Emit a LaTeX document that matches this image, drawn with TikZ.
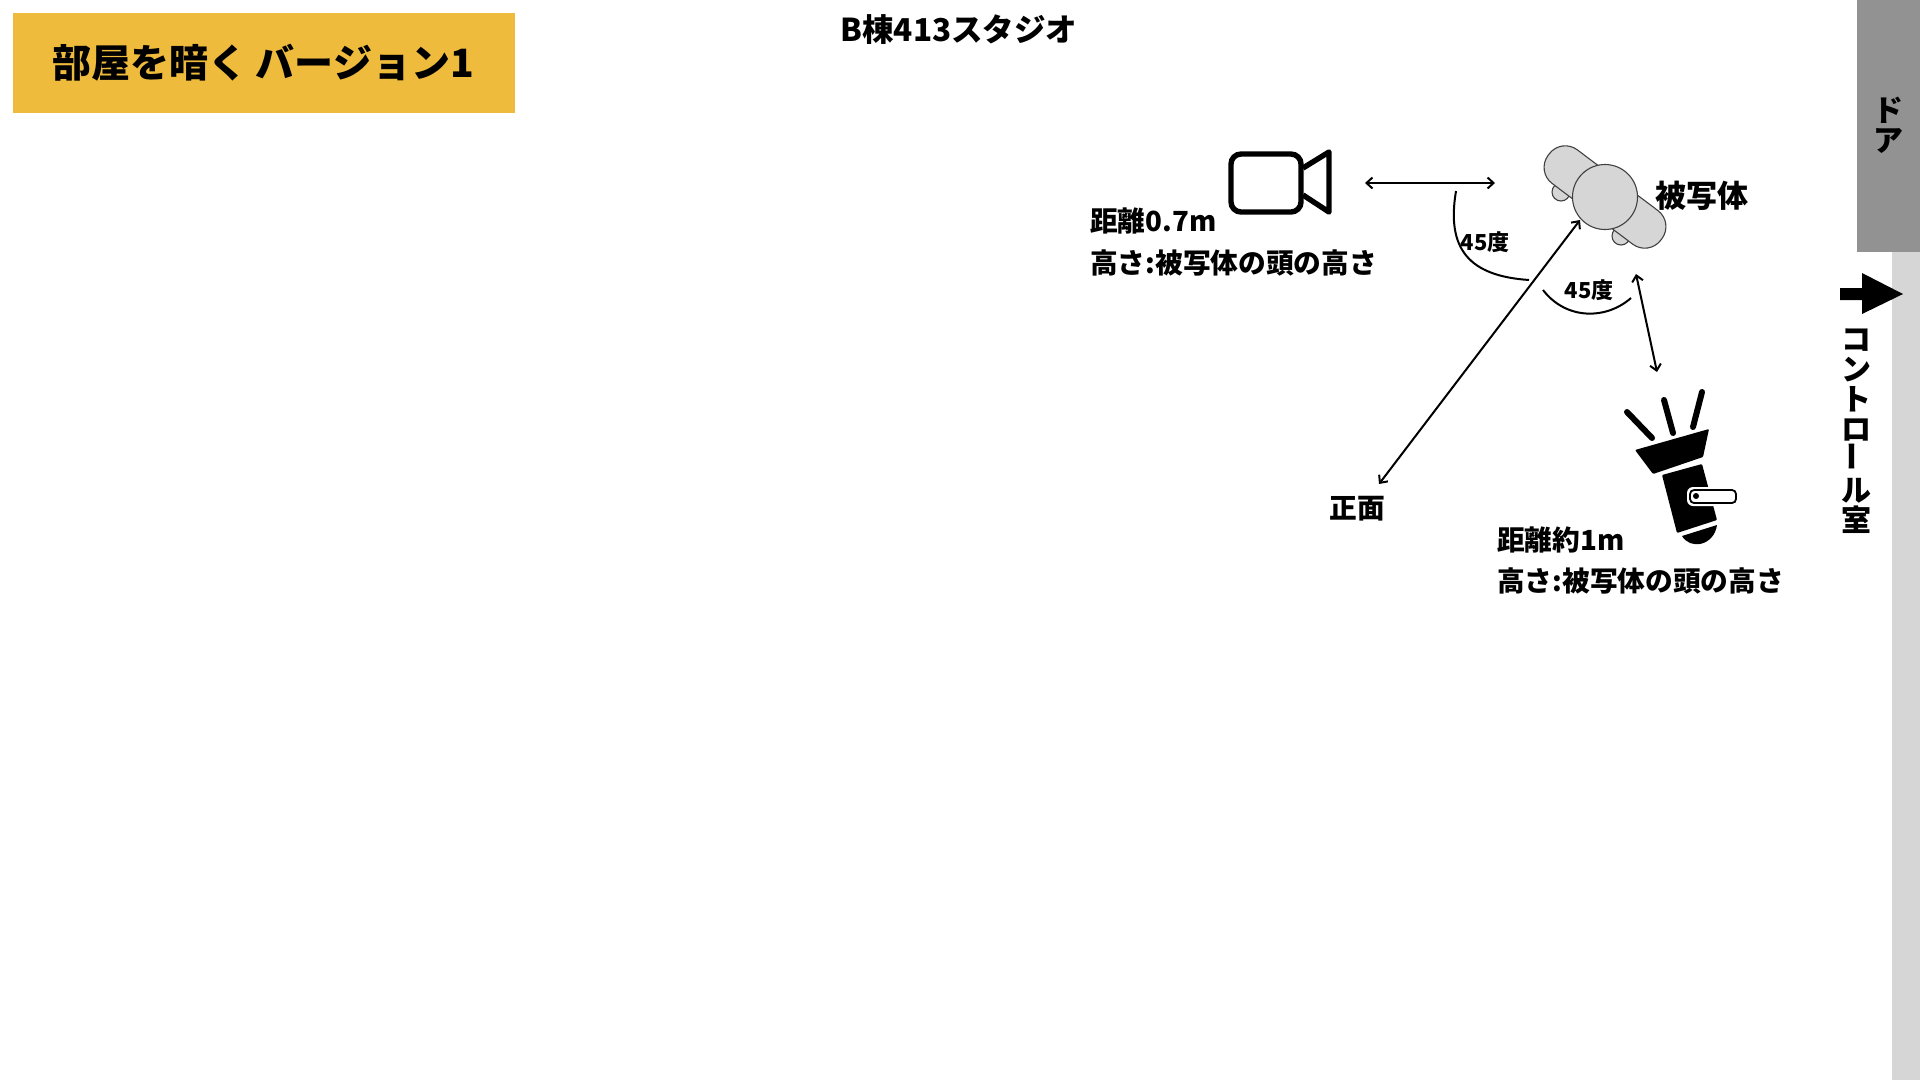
\documentclass[tikz,border=0pt]{standalone}
\usepackage{fontspec}
\setmainfont{Noto Sans CJK JP}
\usetikzlibrary{arrows.meta}
\usepackage{xcolor}
\definecolor{mygold}{HTML}{EFBB3C}
\definecolor{mydoor}{HTML}{929292}
\definecolor{mywall}{HTML}{D6D6D6}
\tikzset{
  x=1pt, y=-1pt,
  label big/.style={font=\bfseries\fontsize{39}{39}\selectfont,black},
  label mid/.style={font=\bfseries\fontsize{30}{30}\selectfont,black,inner sep=0},
  label note/.style={font=\bfseries\fontsize{27.7}{27.7}\selectfont,black,anchor=west,inner sep=0},
  label angle/.style={font=\bfseries\fontsize{22}{22}\selectfont,black,inner sep=0},
  label stack/.style={label mid,align=center},
  body part/.style={draw=black!75,fill=mywall,line width=1.1,inner sep=0,outer sep=0},
  hand/.style={body part,circle,minimum size=18},
  connect arrow/.style={{Straight Barb[length=6,width=11]}-{Straight Barb[length=6,width=11]},line width=2,black},
  angle mark/.style={line width=2,black},
  lamp ray/.style={line width=6,black,line cap=round}
}
\begin{document}
\begin{tikzpicture}
  \useasboundingbox (0,0) rectangle (1920,1080);

  % walls and title
  \node[fill=mywall,minimum width=28,minimum height=828,inner sep=0,anchor=north west] (wall) at (1892,252) {};
  \node[fill=mydoor,minimum width=63,minimum height=252,inner sep=0,anchor=north west] (door) at (1857,0) {};
  \node[label stack] (door text) at (1888,125) {ド\\ア};
  \node[fill=mygold,minimum width=502,minimum height=100,inner sep=0,anchor=north west] (title box) at (13,13) {};
  \node[label big] (title) at (263,63) {部屋を暗く バージョン1};
  \node[label mid,font=\bfseries\fontsize{31.5}{31.5}\selectfont] (studio) at (959,30) {B棟413スタジオ};

  % way to the control room
  \fill[black] (1840,288) -- (1862,288) -- (1862,273) -- (1903,294) -- (1862,314) -- (1862,300) -- (1840,300) -- cycle;
  \node[label stack] (control) at (1856,431) {コ\\ン\\ト\\ロ\\\rotatebox{90}{ー}\\ル\\室};

  % camera
  \node[draw=black,line width=5.4,rounded corners=10,minimum width=70,minimum height=58,inner sep=0,outer sep=0] (camera) at (1266,183) {};
  \draw[black,line width=5.4,line join=round] (1303,168) -- (1329,152) -- (1329,212) -- (1303,195);
  \node[label note] (camera dist) at (1090,221) {距離0.7m};
  \node[label note] (camera height) at (1090,263) {高さ:被写体の頭の高さ};

  % subject from above
  \node[hand] (hand a) at (1561,192) {};
  \node[hand] (hand b) at (1621,236) {};
  \node[body part,rounded corners=20,rotate=-37,minimum width=141,minimum height=42] (shoulders) at (1605,197) {};
  \node[body part,circle,minimum size=65] (head) at (1605,197) {};
  \node[label mid,font=\bfseries\fontsize{31}{31}\selectfont] (subject) at (1702,196) {被写体};

  % distances
  \coordinate (cam end) at (1365,183);
  \coordinate (subj end) at (1495,183);
  \coordinate (subj front) at (1580,220);
  \coordinate (front end) at (1379,484);
  \coordinate (lamp top) at (1636,274);
  \coordinate (lamp end) at (1657,372);
  \draw[connect arrow] (cam end) -- (subj end);
  \draw[connect arrow] (subj front) -- (front end);
  \draw[connect arrow] (lamp top) -- (lamp end);
  \node[label note,anchor=center] (front) at (1357,509) {正面};

  % angles
  \coordinate (arc a start) at (1456,191);
  \coordinate (arc a end) at (1529,280);
  \coordinate (arc b start) at (1543,290);
  \coordinate (arc b end) at (1631,298);
  \draw[angle mark] (arc a start) .. controls (1446,250) and (1470,276) .. (arc a end);
  \draw[angle mark] (arc b start) .. controls (1566,320) and (1606,320) .. (arc b end);
  \node[label angle] (angle a) at (1485,242) {45度};
  \node[label angle] (angle b) at (1589,290) {45度};

  % lamp
  \draw[lamp ray] (1627,412) -- (1652,438);
  \draw[lamp ray] (1664,400) -- (1673,433);
  \draw[lamp ray] (1702,392) -- (1693,427);
  \fill[black,rounded corners=1] (1635,450) -- (1709,429) -- (1703,457) -- (1653,474) -- cycle;
  \fill[black,rounded corners=1] (1662,475) -- (1702,464) -- (1717,520) -- (1677,533) -- cycle;
  \fill[black] (1682,536) .. controls (1690,550) and (1714,546) .. (1717,525) -- cycle;
  \fill[white,rounded corners=6] (1687,487) rectangle (1738,506);
  \draw[black,fill=white,line width=1.8,rounded corners=4] (1690,490) rectangle (1736,503);
  \node[circle,fill=black,minimum size=6,inner sep=0] (switch) at (1696,496) {};
  \node[label note] (lamp dist) at (1497,540) {距離約1m};
  \node[label note] (lamp height) at (1497,581) {高さ:被写体の頭の高さ};
\end{tikzpicture}
\end{document}
